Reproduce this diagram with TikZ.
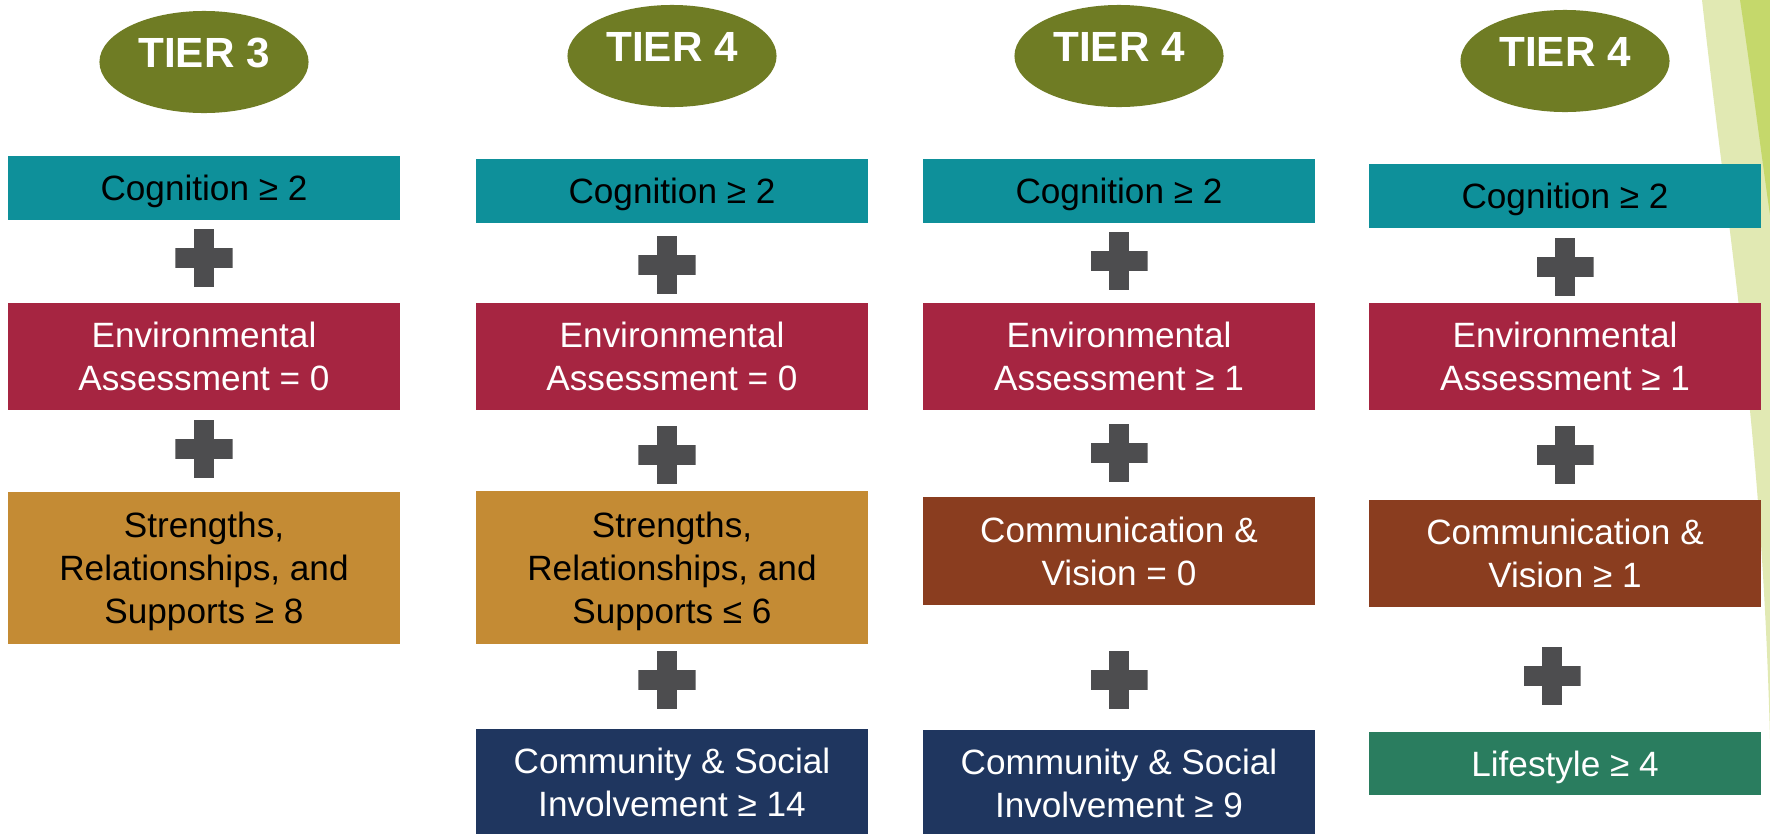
\documentclass[tikz,border=0pt]{standalone}
\usepackage{fontspec}
\setmainfont{Liberation Sans}
\definecolor{tiercolor}{RGB}{111,124,36}
\definecolor{cogcolor}{RGB}{14,144,154}
\definecolor{envcolor}{RGB}{166,37,65}
\definecolor{strcolor}{RGB}{196,139,52}
\definecolor{comcolor}{RGB}{138,61,31}
\definecolor{soccolor}{RGB}{31,54,95}
\definecolor{lifecolor}{RGB}{42,125,95}
\definecolor{pluscolor}{RGB}{77,77,79}
\definecolor{decopale}{RGB}{225,233,179}
\definecolor{decolime}{RGB}{197,216,107}
\usetikzlibrary{shapes,calc,positioning}
\tikzstyle{tier}=[ellipse, fill=tiercolor, minimum width=2.09cm, minimum height=1.02cm, inner sep=0pt, text=white, font=\fontsize{12}{14}\selectfont\bfseries, text height=0.3cm, text depth=0.2cm]
\tikzstyle{box}=[rectangle, minimum width=3.92cm, inner sep=0pt, align=center, text=white, text depth=0pt, font=\fontsize{10}{12.2}\selectfont]
\tikzstyle{cog box}=[box, fill=cogcolor, text=black, minimum height=0.64cm]
\tikzstyle{env box}=[box, fill=envcolor, minimum height=1.07cm]
\tikzstyle{str box}=[box, fill=strcolor, text=black, minimum height=1.52cm]
\tikzstyle{com box}=[box, fill=comcolor, minimum height=1.07cm]
\tikzstyle{soc box}=[box, fill=soccolor, minimum height=1.07cm]
\tikzstyle{life box}=[box, fill=lifecolor, minimum height=0.63cm]
\tikzstyle{plus sign}=[minimum size=0.57cm, inner sep=0pt, path picture={
    \fill[pluscolor] ($(path picture bounding box.center)+(-0.285cm,0.1cm)$) rectangle ($(path picture bounding box.center)+(0.285cm,-0.1cm)$);
    \fill[pluscolor] ($(path picture bounding box.center)+(-0.1cm,0.285cm)$) rectangle ($(path picture bounding box.center)+(0.1cm,-0.285cm)$);}]

\begin{document}
\begin{tikzpicture}[x=0.01cm, y=-0.01cm]
\def\envy{356.5}

    \useasboundingbox[fill=white] (0,0) rectangle (1770,833);

    % slide decoration on the right
    \fill[decopale] (1702,0) .. controls (1730,250) and (1762,430) .. (1770,740) -- (1770,0) -- cycle;
    \fill[decolime] (1740,0) .. controls (1752,80) and (1762,160) .. (1770,215) -- (1770,0) -- cycle;

    \foreach \name / \x / \y / \num in {1/204/62/3, 2/672/56/4, 3/1119/56/4, 4/1565/61/4}
        \node[tier] (T-\name) at (\x,\y) {TIER \num};

    \foreach \name / \x / \y in {1/204/188, 2/672/191, 3/1119/191, 4/1565/196}
        \node[cog box] (C-\name) at (\x,\y) {Cognition ≥ 2};

    \foreach \name / \x / \rel in {1/204/= 0, 2/672/= 0, 3/1119/≥ 1, 4/1565/≥ 1}
        \node[env box] (E-\name) at (\x,\envy) {Environmental\\Assessment \rel};

    \node[str box] (S-1) at (204,568) {Strengths,\\Relationships, and\\Supports ≥ 8};
    \node[str box] (S-2) at (672,567.5) {Strengths,\\Relationships, and\\Supports ≤ 6};

    \node[com box] (V-3) at (1119,551) {Communication \&\\Vision = 0};
    \node[com box] (V-4) at (1565,553.5) {Communication \&\\Vision ≥ 1};

    \node[soc box] (N-2) at (672,782.5) {Community \& Social\\Involvement ≥ 14};
    \node[soc box] (N-3) at (1119,783.5) {Community \& Social\\Involvement ≥ 9};

    \node[life box] (L-4) at (1565,763.5) {Lifestyle ≥ 4};

    % plus signs between the boxes
    \foreach \name / \x / \y in {1-1/204/258, 1-2/204/449,
                                 2-1/667/265, 2-2/667/455, 2-3/667/680,
                                 3-1/1119/261, 3-2/1119/453, 3-3/1119/680,
                                 4-1/1565/267, 4-2/1565/455, 4-3/1552/676}
        \node[plus sign] (P-\name) at (\x,\y) {};

\end{tikzpicture}
\end{document}
